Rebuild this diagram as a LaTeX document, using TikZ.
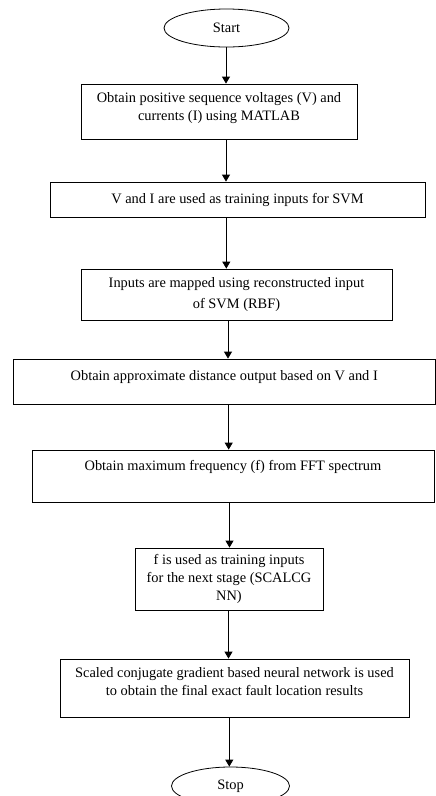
\documentclass[tikz,border=0pt]{standalone}
\usepackage{fontspec}
\setmainfont{Liberation Serif}
\usetikzlibrary{shapes.geometric,arrows.meta}

\begin{document}
\begin{tikzpicture}[x=1pt,y=-1pt,
  box/.style={draw,line width=0.8pt,align=center,inner sep=0pt,font=\fontsize{14.4}{18}\selectfont},
  term/.style={draw,ellipse,line width=0.8pt,inner sep=0pt,font=\fontsize{14.4}{18}\selectfont},
  arr/.style={-{Triangle[length=7pt,width=8pt]},line width=0.8pt}]
  \useasboundingbox (0,0) rectangle (436,796);

  \node[term,minimum width=125pt,minimum height=38pt] (start) at (226.5,28) {Start};
  \node[box,minimum width=276pt,minimum height=55pt] (box1) at (219,111.5)
    {Obtain positive sequence voltages (V) and\\currents (I) using MATLAB\\[-8pt]\mbox{}};
  \node[box,minimum width=375pt,minimum height=35pt] (box2) at (237.5,199.5)
    {V and I are used as training inputs for SVM};
  \node[box,minimum width=311pt,minimum height=51pt] (box3) at (236.5,294.5)
    {Inputs are mapped using reconstructed input\\[3pt]of SVM (RBF)};
  \node[box,minimum width=422.5pt,minimum height=45pt] (box4) at (224.25,381.5)
    {Obtain approximate distance output based on V and I\\[-6pt]\mbox{}};
  \node[box,minimum width=402pt,minimum height=52pt] (box5) at (233,476)
    {Obtain maximum frequency (f) from FFT spectrum\\[3pt]\mbox{}};
  \node[box,minimum width=188pt,minimum height=62pt] (box6) at (229,579)
    {f is used as training inputs\\for the next stage (SCALCG\\NN)};
  \node[box,minimum width=349pt,minimum height=58pt] (box7) at (234.5,688)
    {Scaled conjugate gradient based neural network is used\\to obtain the final exact fault location results\\[-4pt]\mbox{}};
  \node[term,minimum width=118pt,minimum height=38pt] (stop) at (230.5,786) {Stop};

  \foreach \a/\b/\x in {start/box1/226,box1/box2/226,box2/box3/226.3,box3/box4/228,
      box4/box5/228.7,box5/box6/229.5,box6/box7/228.5,box7/stop/229.3}
    \draw[arr] (\a.south -| \x,0) -- (\b.north -| \x,0);
\end{tikzpicture}
\end{document}
